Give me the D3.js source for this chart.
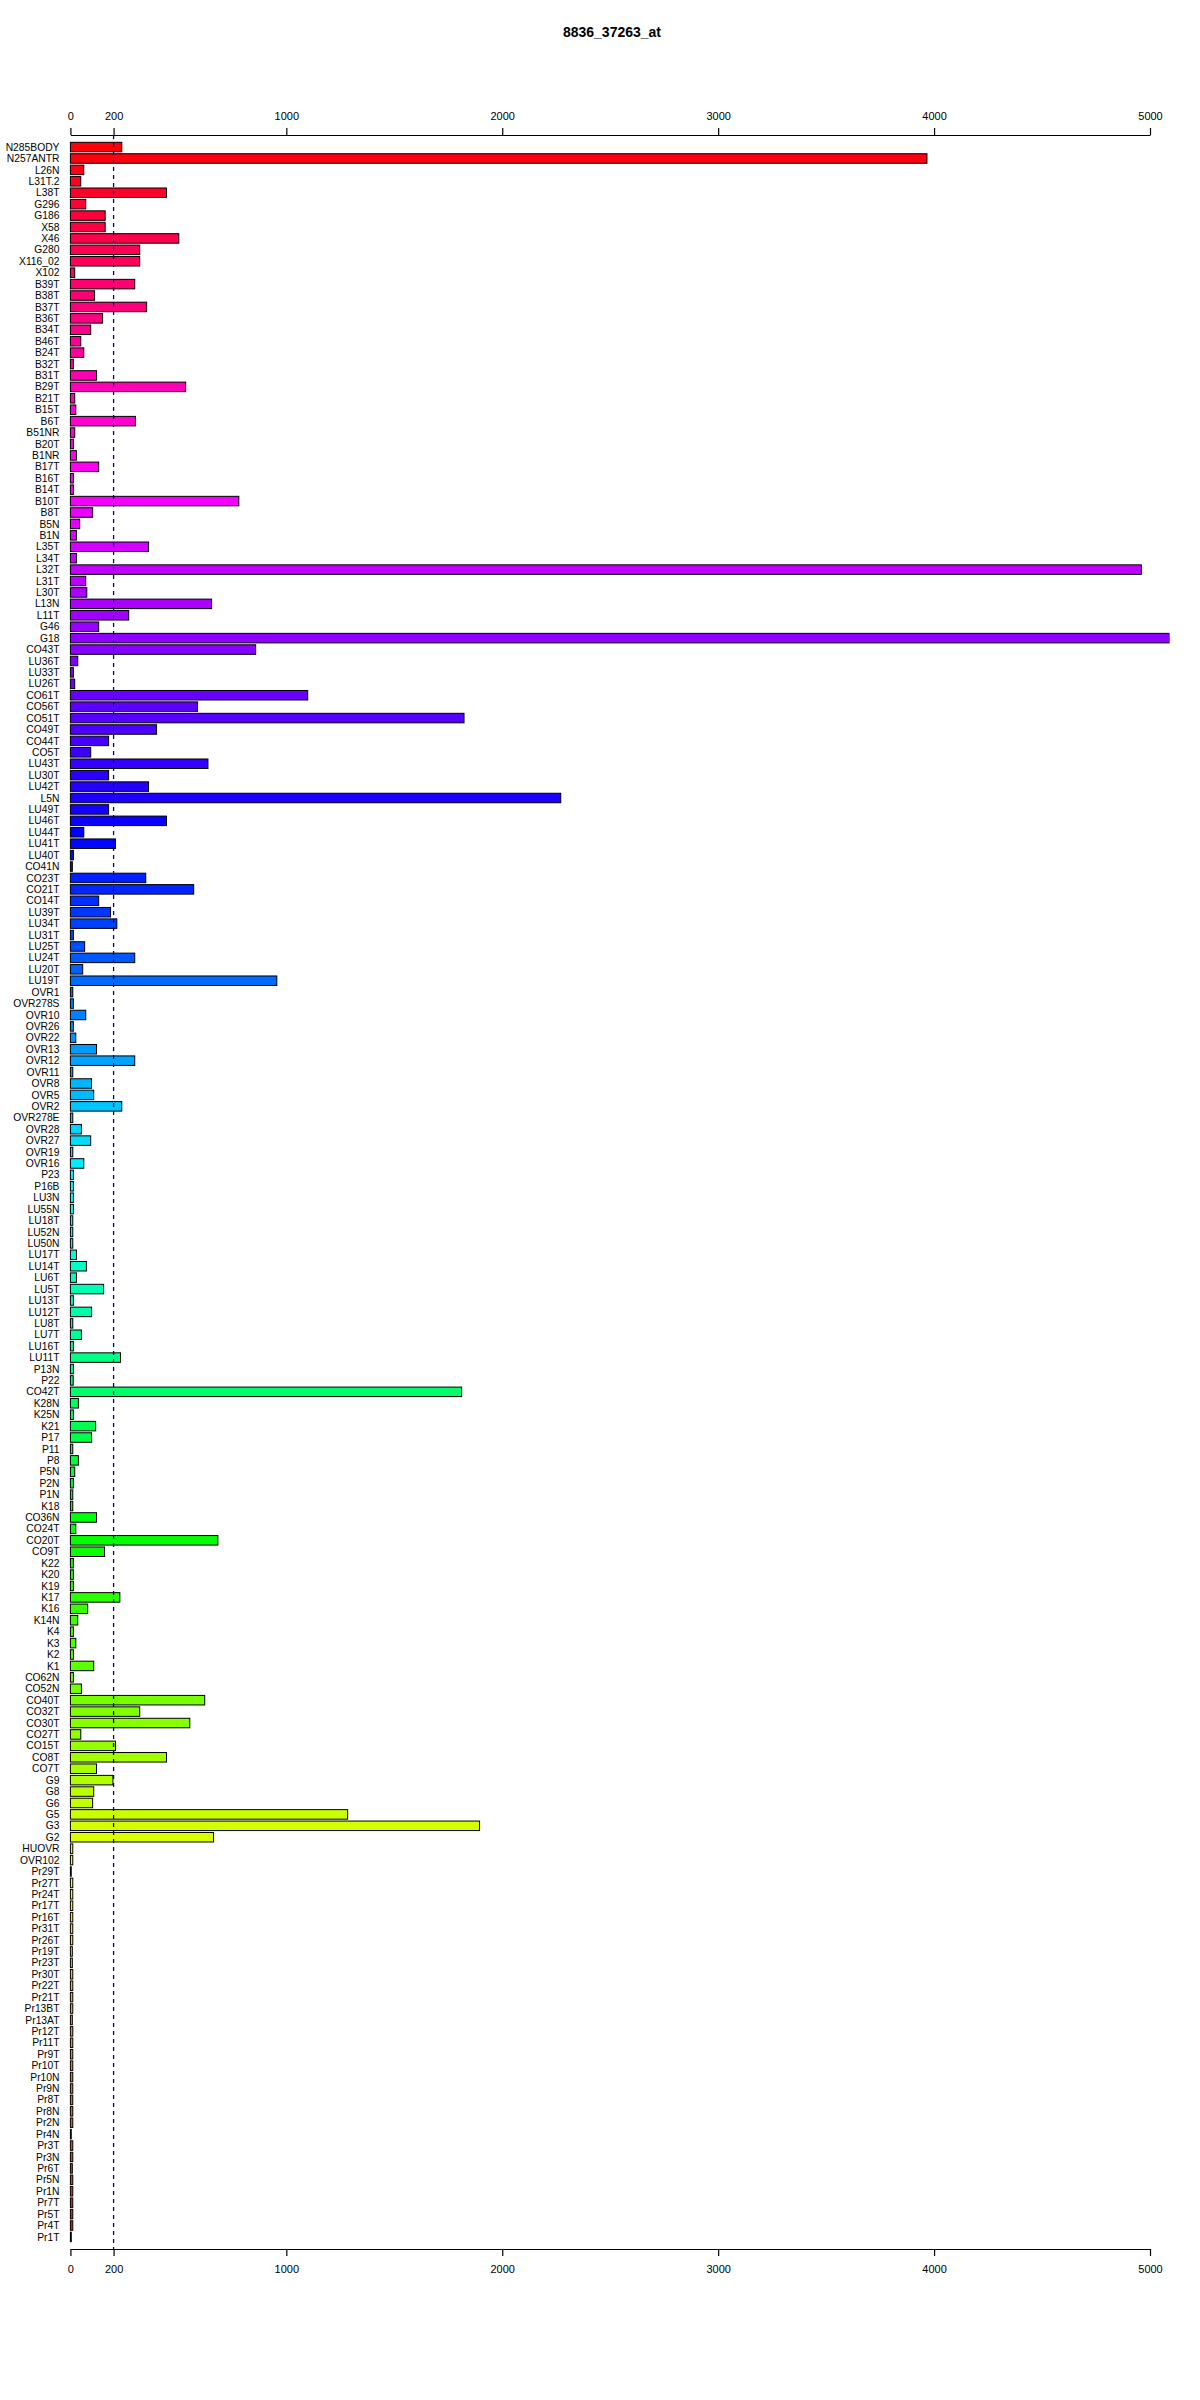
<!DOCTYPE html>
<html><head><meta charset="utf-8">
<script src="https://cdn.jsdelivr.net/npm/d3@7/dist/d3.min.js"></script>
<style>body{margin:0;background:#fff} text{font-family:"Liberation Sans",Arial,sans-serif}</style>
</head><body><svg id="c" width="1200" height="2400"></svg>
<script>
const chartTitle = "8836_37263_at";
const categories = ["N285BODY","N257ANTR","L26N","L31T.2","L38T","G296","G186","X58","X46","G280","X116_02","X102","B39T","B38T","B37T","B36T","B34T","B46T","B24T","B32T","B31T","B29T","B21T","B15T","B6T","B51NR","B20T","B1NR","B17T","B16T","B14T","B10T","B8T","B5N","B1N","L35T","L34T","L32T","L31T","L30T","L13N","L11T","G46","G18","CO43T","LU36T","LU33T","LU26T","CO61T","CO56T","CO51T","CO49T","CO44T","CO5T","LU43T","LU30T","LU42T","L5N","LU49T","LU46T","LU44T","LU41T","LU40T","CO41N","CO23T","CO21T","CO14T","LU39T","LU34T","LU31T","LU25T","LU24T","LU20T","LU19T","OVR1","OVR278S","OVR10","OVR26","OVR22","OVR13","OVR12","OVR11","OVR8","OVR5","OVR2","OVR278E","OVR28","OVR27","OVR19","OVR16","P23","P16B","LU3N","LU55N","LU18T","LU52N","LU50N","LU17T","LU14T","LU6T","LU5T","LU13T","LU12T","LU8T","LU7T","LU16T","LU11T","P13N","P22","CO42T","K28N","K25N","K21","P17","P11","P8","P5N","P2N","P1N","K18","CO36N","CO24T","CO20T","CO9T","K22","K20","K19","K17","K16","K14N","K4","K3","K2","K1","CO62N","CO52N","CO40T","CO32T","CO30T","CO27T","CO15T","CO8T","CO7T","G9","G8","G6","G5","G3","G2","HUOVR","OVR102","Pr29T","Pr27T","Pr24T","Pr17T","Pr16T","Pr31T","Pr26T","Pr19T","Pr23T","Pr30T","Pr22T","Pr21T","Pr13BT","Pr13AT","Pr12T","Pr11T","Pr9T","Pr10T","Pr10N","Pr9N","Pr8T","Pr8N","Pr2N","Pr4N","Pr3T","Pr3N","Pr6T","Pr5N","Pr1N","Pr7T","Pr5T","Pr4T","Pr1T"];
const values = [238,3967,62,48,445,71,161,161,502,321,321,20,298,112,353,149,94,48,62,14,121,534,20,25,301,20,14,28,131,14,14,780,103,43,28,362,28,4960,71,76,654,270,131,5090,858,34,14,20,1099,589,1823,399,177,94,637,177,362,2271,177,445,62,209,14,9,349,571,131,186,215,14,66,298,57,956,11,14,71,14,25,121,298,11,98,108,238,11,51,94,11,62,14,14,14,14,11,11,11,28,74,28,154,14,98,11,51,14,232,14,13,1812,37,14,117,98,11,37,20,14,11,11,121,25,683,158,14,14,14,229,80,34,14,25,14,108,14,51,622,321,553,48,209,445,121,197,108,103,1284,1895,663,11,11,4,11,11,11,11,11,11,9,9,11,11,11,11,9,11,11,11,11,11,11,11,11,11,4,11,11,9,11,11,11,11,11,4];
const tickValues = [0,200,1000,2000,3000,4000,5000];
const thresholdValue = 200;

const n = categories.length;
const svg = d3.select("#c");
const plotTop = 135, plotBottom = 2249;
const x = d3.scaleLinear().domain([0,5000]).range([70.4,1150]);
const y = d3.scaleBand().domain(categories).range([plotTop, plotBottom]).paddingInner(0.2/1.2).paddingOuter(0.64);
const colorOf = i => d3.hsl(((n-1-i)/n)*360, 1, 0.5).formatHex();

svg.append("defs").append("clipPath").attr("id","pc").append("rect")
  .attr("x", 0).attr("y", plotTop).attr("width", 1169.5).attr("height", plotBottom-plotTop);

svg.append("text").attr("x", 612).attr("y", 37).attr("text-anchor","middle")
  .attr("font-size", 14).attr("font-weight","bold").text(chartTitle);

svg.append("g").attr("clip-path","url(#pc)").selectAll("rect").data(values).join("rect")
  .attr("x", x(0)).attr("y", (d,i)=>y(categories[i]))
  .attr("width", d=>x(d)-x(0)).attr("height", y.bandwidth())
  .attr("fill", (d,i)=>colorOf(i)).attr("stroke","#000").attr("stroke-width",1);

svg.append("g").selectAll("text").data(categories).join("text")
  .attr("x", 59.5).attr("y", d=>y(d)+y.bandwidth()/2).attr("dy","0.35em")
  .attr("text-anchor","end").attr("font-size", 10.3).attr("fill","#000").text(d=>d);

svg.append("line").attr("x1", x(thresholdValue)).attr("x2", x(thresholdValue))
  .attr("y1", plotTop).attr("y2", plotBottom)
  .attr("stroke","#00008B").attr("stroke-width",1.3).attr("stroke-dasharray","4,4");

const axTop = svg.append("g").attr("transform",`translate(0,${plotTop})`)
  .call(d3.axisTop(x).tickValues(tickValues).tickFormat(d3.format("d")).tickSize(7).tickSizeOuter(0).tickPadding(8));
const axBot = svg.append("g").attr("transform",`translate(0,${plotBottom})`)
  .call(d3.axisBottom(x).tickValues(tickValues).tickFormat(d3.format("d")).tickSize(7).tickSizeOuter(0).tickPadding(9));
[axTop,axBot].forEach(g=>{
  g.selectAll("text").attr("font-size",11).attr("font-family","Liberation Sans, Arial, sans-serif").attr("fill","#000");
  g.selectAll("line,path").attr("stroke","#000").attr("stroke-width",1.2);
});
</script></body></html>
